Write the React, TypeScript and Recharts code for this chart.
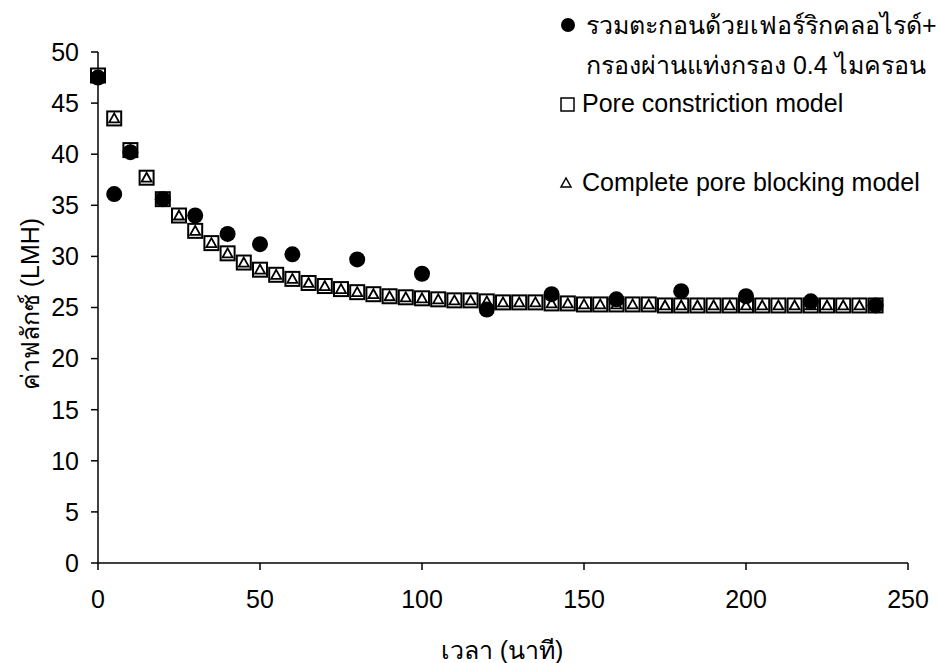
import { ScatterChart, Scatter, XAxis, YAxis } from 'recharts';

const modelTimes = [
  0, 5, 10, 15, 20, 25, 30, 35, 40, 45, 50, 55, 60, 65, 70, 75, 80, 85, 90, 95,
  100, 105, 110, 115, 120, 125, 130, 135, 140, 145, 150, 155, 160, 165, 170, 175,
  180, 185, 190, 195, 200, 205, 210, 215, 220, 225, 230, 235, 240,
];

const poreConstriction = [
  47.7, 43.5, 40.4, 37.7, 35.6, 34.0, 32.5, 31.3, 30.3, 29.4, 28.7, 28.2, 27.8, 27.4, 27.1, 26.8, 26.5, 26.3, 26.1, 26.0,
  25.9, 25.8, 25.7, 25.7, 25.6, 25.5, 25.5, 25.5, 25.4, 25.4, 25.3, 25.3, 25.3, 25.3, 25.3, 25.2,
  25.2, 25.2, 25.2, 25.2, 25.2, 25.2, 25.2, 25.2, 25.2, 25.2, 25.2, 25.2, 25.2,
];

const completeBlocking = [
  47.7, 43.5, 40.4, 37.7, 35.6, 34.0, 32.5, 31.3, 30.3, 29.4, 28.7, 28.2, 27.8, 27.4, 27.1, 26.8, 26.5, 26.3, 26.1, 26.0,
  25.9, 25.8, 25.7, 25.7, 25.6, 25.5, 25.5, 25.5, 25.4, 25.4, 25.3, 25.3, 25.3, 25.3, 25.3, 25.2,
  25.2, 25.2, 25.2, 25.2, 25.2, 25.2, 25.2, 25.2, 25.2, 25.2, 25.2, 25.2, 25.2,
];

const expTimes = [0, 5, 10, 20, 30, 40, 50, 60, 80, 100, 120, 140, 160, 180, 200, 220, 240];
const expFlux = [47.5, 36.1, 40.2, 35.6, 34.0, 32.2, 31.2, 30.2, 29.7, 28.3, 24.8, 26.3, 25.8, 26.6, 26.1, 25.6, 25.2];

const xTicks = [0, 50, 100, 150, 200, 250];
const yTicks = [0, 5, 10, 15, 20, 25, 30, 35, 40, 45, 50];

const font = '"Liberation Sans", Arial, sans-serif';

const constrictionData = modelTimes.map((t, i) => ({ x: t, y: poreConstriction[i] }));
const blockingData = modelTimes.map((t, i) => ({ x: t, y: completeBlocking[i] }));
const expData = expTimes.map((t, i) => ({ x: t, y: expFlux[i] }));

const Dot = (p: any) => <circle cx={p.cx} cy={p.cy} r={8} fill="#000" />;
const Box = (p: any) => (
  <rect x={p.cx - 7} y={p.cy - 7} width={14} height={14} fill="#fff" stroke="#000" strokeWidth={2} />
);
const Tri = (p: any) => (
  <polygon
    points={`${p.cx},${p.cy - 5} ${p.cx - 5},${p.cy + 4} ${p.cx + 5},${p.cy + 4}`}
    fill="#fff"
    stroke="#000"
    strokeWidth={1.8}
  />
);

const YTitle = () => (
  <text
    x={30}
    y={304}
    transform="rotate(-90 30 304)"
    textAnchor="middle"
    dominantBaseline="central"
    fill="#000"
    fontSize={25}
    fontFamily={font}
  >
    ค่าฟลักซ์ (LMH)
  </text>
);

const XTitle = () => (
  <text x={502} y={650} textAnchor="middle" dominantBaseline="central" fill="#000" fontSize={25} fontFamily={font}>
    เวลา (นาที)
  </text>
);

function LegendBox() {
  const text = { fontFamily: font, fontSize: 25, color: '#000', whiteSpace: 'nowrap' as const };
  return (
    <div style={{ position: 'absolute', left: 558, top: 10 }}>
      <div style={{ display: 'flex', alignItems: 'flex-start' }}>
        <svg width={22} height={34}>
          <circle cx={10} cy={15} r={7} fill="#000" />
        </svg>
        <div style={{ ...text, lineHeight: '40px', marginTop: -5, marginLeft: 6 }}>
          รวมตะกอนด้วยเฟอร์ริกคลอไรด์+
          <br />
          กรองผ่านแท่งกรอง 0.4 ไมครอน
        </div>
      </div>
      <div style={{ display: 'flex', alignItems: 'center', marginTop: 4 }}>
        <svg width={22} height={24}>
          <rect x={3} y={6} width={13} height={13} fill="#fff" stroke="#000" strokeWidth={1.5} />
        </svg>
        <div style={{ ...text, marginLeft: 2 }}>Pore constriction model</div>
      </div>
      <div style={{ display: 'flex', alignItems: 'center', marginTop: 50 }}>
        <svg width={22} height={24}>
          <polygon points="8,7 3,16 13,16" fill="#fff" stroke="#000" strokeWidth={1.5} />
        </svg>
        <div style={{ ...text, marginLeft: 2 }}>Complete pore blocking model</div>
      </div>
    </div>
  );
}

export default function App() {
  return (
    <div style={{ position: 'absolute', left: 0, top: 0, width: 940, height: 663, background: '#fff' }}>
      <ScatterChart width={940} height={663} margin={{ top: 52, right: 32, left: 0, bottom: 0 }}>
        <XAxis
          type="number"
          dataKey="x"
          domain={[0, 250]}
          ticks={xTicks}
          height={100}
          stroke="#000"
          strokeWidth={1.5}
          tickSize={7}
          tickMargin={20}
          tick={{ fill: '#000', fontSize: 25, fontFamily: font }}
          label={{ content: XTitle }}
        />
        <YAxis
          type="number"
          dataKey="y"
          domain={[0, 50]}
          ticks={yTicks}
          width={98}
          stroke="#000"
          strokeWidth={1.5}
          tickSize={7}
          tickMargin={12}
          tick={{ fill: '#000', fontSize: 25, fontFamily: font }}
          label={{ content: YTitle }}
        />
        <Scatter data={constrictionData} shape={Box} isAnimationActive={false} />
        <Scatter data={blockingData} shape={Tri} isAnimationActive={false} />
        <Scatter data={expData} shape={Dot} isAnimationActive={false} />
      </ScatterChart>
      <LegendBox />
    </div>
  );
}
